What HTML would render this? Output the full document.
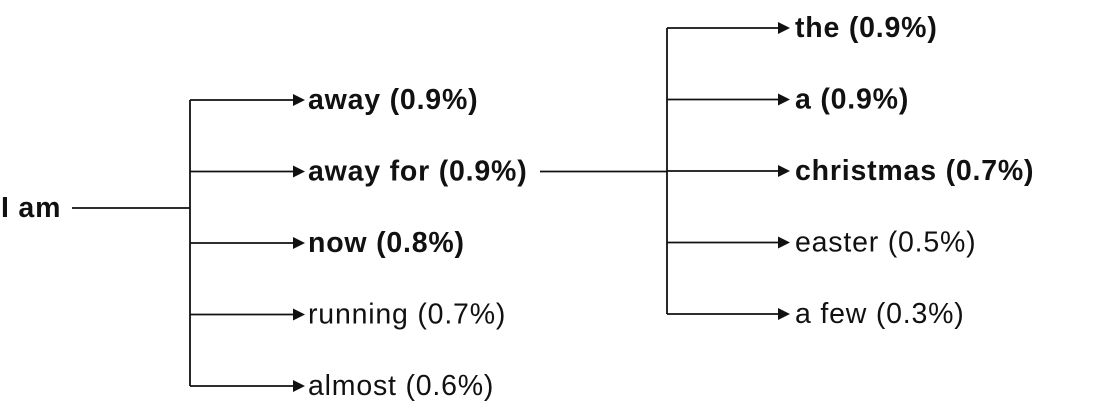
<!DOCTYPE html>
<html><head><meta charset="utf-8"><style>
html,body{margin:0;padding:0;background:#fff;}
svg{display:block;}
text{font-family:"Liberation Sans",Arial,sans-serif;font-size:28.5px;letter-spacing:0.8px;fill:#111;dominant-baseline:central;}
.b{font-weight:bold;}
line{stroke:#111;stroke-width:1.8;}
</style></head><body>
<svg id="chart" width="1100" height="414">
<text x="1" y="208" class="b">I am</text>
</svg>
<script>
const level1Words=["away","away for","now","running","almost"];
const level1Pct=[0.9,0.9,0.8,0.7,0.6];
const level1Bold=[true,true,true,false,false];
const level2Words=["the","a","christmas","easter","a few"];
const level2Pct=[0.9,0.9,0.7,0.5,0.3];
const level2Bold=[true,true,true,false,false];
const svg=document.getElementById('chart');
const NS='http://www.w3.org/2000/svg';
function mk(tag,attrs){const e=document.createElementNS(NS,tag);for(const k in attrs)e.setAttribute(k,attrs[k]);svg.appendChild(e);return e;}
function yPos(i,top){return top+i*71.5;}
function arrow(x,y){const p=mk('polygon',{points:`${x},${y} ${x-12},${y-6} ${x-12},${y+6}`,fill:'#111'});

}
function branch(words,pct,bold,vx,top,ax,lx,prefix){
  const ys=words.map((w,i)=>yPos(i,top));
  const v=mk('line',{x1:vx,y1:ys[0],x2:vx,y2:ys[ys.length-1]});
  
  
  words.forEach((w,i)=>{
    const l=mk('line',{x1:vx,y1:ys[i],x2:ax-6,y2:ys[i]});
    
    
    arrow(ax,ys[i]);
    const t=mk('text',{x:lx,y:ys[i]});
    if(bold[i])t.setAttribute('class','b');
    t.textContent=w+' ('+pct[i].toFixed(1)+'%)';
    
    
  });
  return ys;
}
const r=mk('line',{x1:72,y1:208,x2:190,y2:208});


const ys1=branch(level1Words,level1Pct,level1Bold,190,100,305,308,'level1');
const c=mk('line',{x1:540,y1:ys1[1],x2:667,y2:ys1[1]});


branch(level2Words,level2Pct,level2Bold,667,28,790,795,'level2');
</script>
</body></html>
